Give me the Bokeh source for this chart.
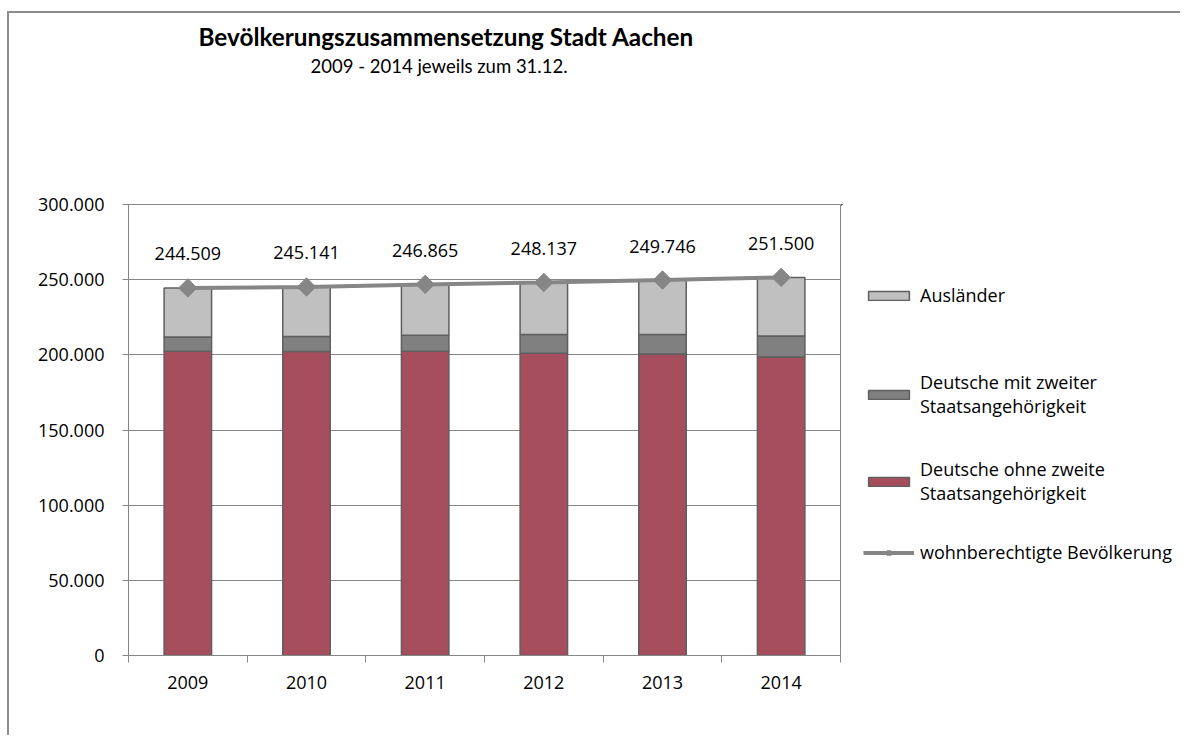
from bokeh.plotting import figure
from bokeh.layouts import row
from bokeh.models import (ColumnDataSource, Range1d, FixedTicker, Legend, LegendItem, Title)
from bokeh.core.properties import value
from bokeh.embed import file_html
from bokeh.resources import INLINE

# ---- data ----
years = ["2009", "2010", "2011", "2012", "2013", "2014"]
deutsche_ohne = [202400, 202200, 202400, 201100, 200600, 198600]
deutsche_mit = [9500, 10000, 10650, 12400, 12900, 14000]
total = [244509, 245141, 246865, 248137, 249746, 251500]
auslaender = [t - a - b for t, a, b in zip(total, deutsche_ohne, deutsche_mit)]
y_ticks = [0, 50000, 100000, 150000, 200000, 250000, 300000]

title_text = "Bevölkerungszusammensetzung Stadt Aachen"
subtitle_text = "2009 - 2014 jeweils zum 31.12."
legend_labels = ["Ausländer", "Deutsche mit zweiter\nStaatsangehörigkeit",
                 "Deutsche ohne zweite\nStaatsangehörigkeit", "wohnberechtigte Bevölkerung"]

COLORS = {"aus": "#C0C0C0", "mit": "#808080", "ohne": "#A64D5E"}
EDGE = "#5f5f5f"
GRAY = "#868686"
FONT = "Open Sans"


def de_num(v):
    return f"{v:,}".replace(",", ".")


xc = [i + 0.5 for i in range(len(years))]
src = ColumnDataSource(dict(x=xc, ohne=deutsche_ohne, mit=deutsche_mit, aus=auslaender,
                            total=total, lbl=[de_num(v) for v in total]))

H = 735
p = figure(width=841, height=H, output_backend="svg", toolbar_location=None,
           x_range=Range1d(0, len(years)), y_range=Range1d(0, 300000),
           min_border_left=128, min_border_right=1, min_border_top=204, min_border_bottom=80)
p.border_fill_color = None
p.background_fill_color = "white"
p.outline_line_color = GRAY
p.outline_line_width = 1
p.xgrid.grid_line_color = None
p.ygrid.grid_line_color = GRAY
p.ygrid.grid_line_width = 1

# bars
p.vbar_stack(["ohne", "mit", "aus"], x="x", width=0.4, source=src,
             fill_color=[COLORS["ohne"], COLORS["mit"], COLORS["aus"]],
             line_color=EDGE, line_width=1.5)

# line with diamonds
p.line("x", "total", source=src, line_color=GRAY, line_width=4)
p.scatter("x", "total", source=src, marker="square", angle=0.785398, size=13,
          fill_color=GRAY, line_color=GRAY)

# data labels
p.text("x", "total", text="lbl", source=src, text_align="center", text_baseline="middle",
       y_offset=-34, text_font=value(FONT), text_font_size="18px", text_color="#000000")

# axes
p.xaxis.ticker = FixedTicker(ticks=xc, minor_ticks=list(range(len(years) + 1)))
p.xaxis.major_label_overrides = {x: y for x, y in zip(xc, years)}
p.xaxis.major_tick_line_color = None
p.xaxis.major_tick_out = 0
p.xaxis.major_tick_in = 0
p.xaxis.minor_tick_line_color = GRAY
p.xaxis.minor_tick_out = 7
p.xaxis.minor_tick_in = 0
p.xaxis.major_label_standoff = 13

p.yaxis.ticker = FixedTicker(ticks=y_ticks)
p.yaxis.major_label_overrides = {t: de_num(t) for t in y_ticks}
p.yaxis.major_tick_out = 6
p.yaxis.major_tick_in = 0
p.yaxis.minor_tick_line_color = None
p.yaxis.major_tick_line_color = GRAY
p.yaxis.major_label_standoff = 18

for ax in (p.xaxis[0], p.yaxis[0]):
    ax.axis_line_color = GRAY
    ax.axis_line_width = 1
    ax.major_label_text_font = FONT
    ax.major_label_text_font_size = "18px"
    ax.major_label_text_color = "#000000"

# titles: spacer nearest the frame, then subtitle, then title
spacer = Title(text=" ", text_font_size="1px", standoff=124)
sub = Title(text=subtitle_text, align="left", offset=182, standoff=2,
            text_font="Lato", text_font_style="normal", text_font_size="18.5px", text_color="#000000")
ttl = Title(text=title_text, align="left", offset=70, standoff=2,
            text_font="Lato", text_font_style="bold", text_font_size="24.3px", text_color="#000000")
p.add_layout(spacer, "above")
p.add_layout(sub, "above")
p.add_layout(ttl, "above")

# ---- legend panel (separate figure; its renderers share the data but lie outside its ranges) ----
lg = figure(width=339, height=H, output_backend="svg", toolbar_location=None,
            x_range=Range1d(100, 101), y_range=Range1d(-2, -1), x_axis_type=None, y_axis_type=None,
            min_border_left=0, min_border_right=0, min_border_top=0, min_border_bottom=0)
lg.border_fill_color = None
lg.background_fill_color = None
lg.outline_line_color = None
lg.xgrid.grid_line_color = None
lg.ygrid.grid_line_color = None

r_aus = lg.vbar(x="x", top="aus", width=0.4, source=src,
                fill_color=COLORS["aus"], line_color=EDGE, line_width=1.5)
r_mit = lg.vbar(x="x", top="mit", width=0.4, source=src,
                fill_color=COLORS["mit"], line_color=EDGE, line_width=1.5)
r_ohne = lg.vbar(x="x", top="ohne", width=0.4, source=src,
                 fill_color=COLORS["ohne"], line_color=EDGE, line_width=1.5)
r_line = lg.line("x", "total", source=src, line_color=GRAY, line_width=4)
r_pt = lg.scatter("x", "total", source=src, marker="square", angle=0.785398, size=6,
                  fill_color=GRAY, line_color=GRAY)

entries = [(legend_labels[0], [r_aus], 348),
           (legend_labels[1], [r_mit], 237),
           (legend_labels[2], [r_ohne], 150),
           (legend_labels[3], [r_line, r_pt], 91)]
for label, rends, ypos in entries:
    leg = Legend(items=[LegendItem(label=label, renderers=rends)], location=(22, ypos))
    leg.glyph_width = 51
    leg.glyph_height = 11
    leg.label_text_font = FONT
    leg.label_text_font_size = "18px"
    leg.label_text_color = "#000000"
    leg.label_standoff = 6
    leg.padding = 0
    leg.margin = 0
    leg.border_line_color = None
    leg.background_fill_alpha = 0
    lg.add_layout(leg, "center")

layout = row(p, lg, spacing=0)
layout.styles = {
    "background": "linear-gradient(#8c8c8c,#8c8c8c) 7px 11px / 2px 100% no-repeat, "
                  "linear-gradient(#8c8c8c,#8c8c8c) 7px 11px / 100% 2px no-repeat"
}

open("out.html", "w").write(file_html(layout, INLINE))
